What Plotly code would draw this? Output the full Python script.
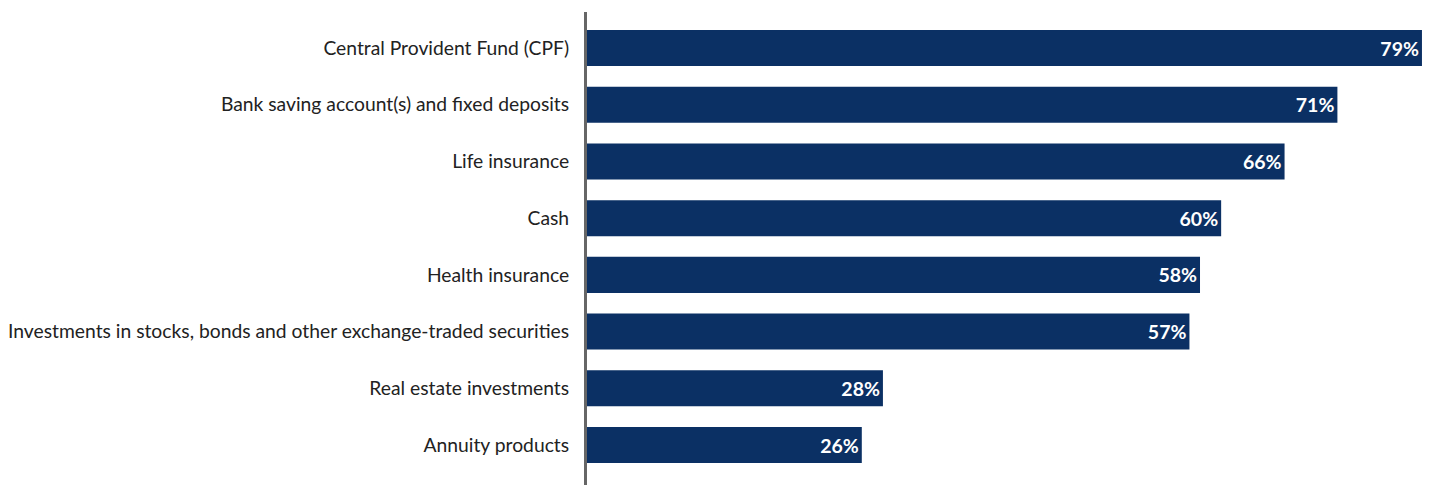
import plotly.graph_objects as go

categories = [
    "Central Provident Fund (CPF)",
    "Bank saving account(s) and fixed deposits",
    "Life insurance",
    "Cash",
    "Health insurance",
    "Investments in stocks, bonds and other exchange-traded securities",
    "Real estate investments",
    "Annuity products",
]
shares = [79, 71, 66, 60, 58, 57, 28, 26]
labels = [f"{v}%" for v in shares]

fig = go.Figure(
    go.Bar(
        x=shares,
        y=categories,
        orientation="h",
        marker=dict(color="#0b3064", line=dict(width=0)),
        width=0.635,
        text=labels,
        textposition="inside",
        insidetextanchor="end",
        textfont=dict(family="Lato", size=19.5, color="white", weight="bold"),
        hoverinfo="skip",
    )
)

fig.update_layout(
    width=1432,
    height=485,
    margin=dict(l=587, r=0, t=12, b=0),
    paper_bgcolor="white",
    plot_bgcolor="white",
    showlegend=False,
    uniformtext=dict(minsize=19, mode="show"),
    font=dict(family="Lato", size=19.3, color="#222222"),
)
fig.update_xaxes(
    range=[0, 79.95],
    visible=False,
    showgrid=False,
    zeroline=False,
)
fig.update_yaxes(
    categoryorder="array",
    categoryarray=categories,
    range=[7.705, -0.635],
    showline=True,
    linecolor="#666666",
    linewidth=3,
    showgrid=False,
    zeroline=False,
    ticks="",
    ticklabelstandoff=11,
    tickfont=dict(family="Lato", size=19.3, color="#222222"),
)

fig.write_html("out.html")
